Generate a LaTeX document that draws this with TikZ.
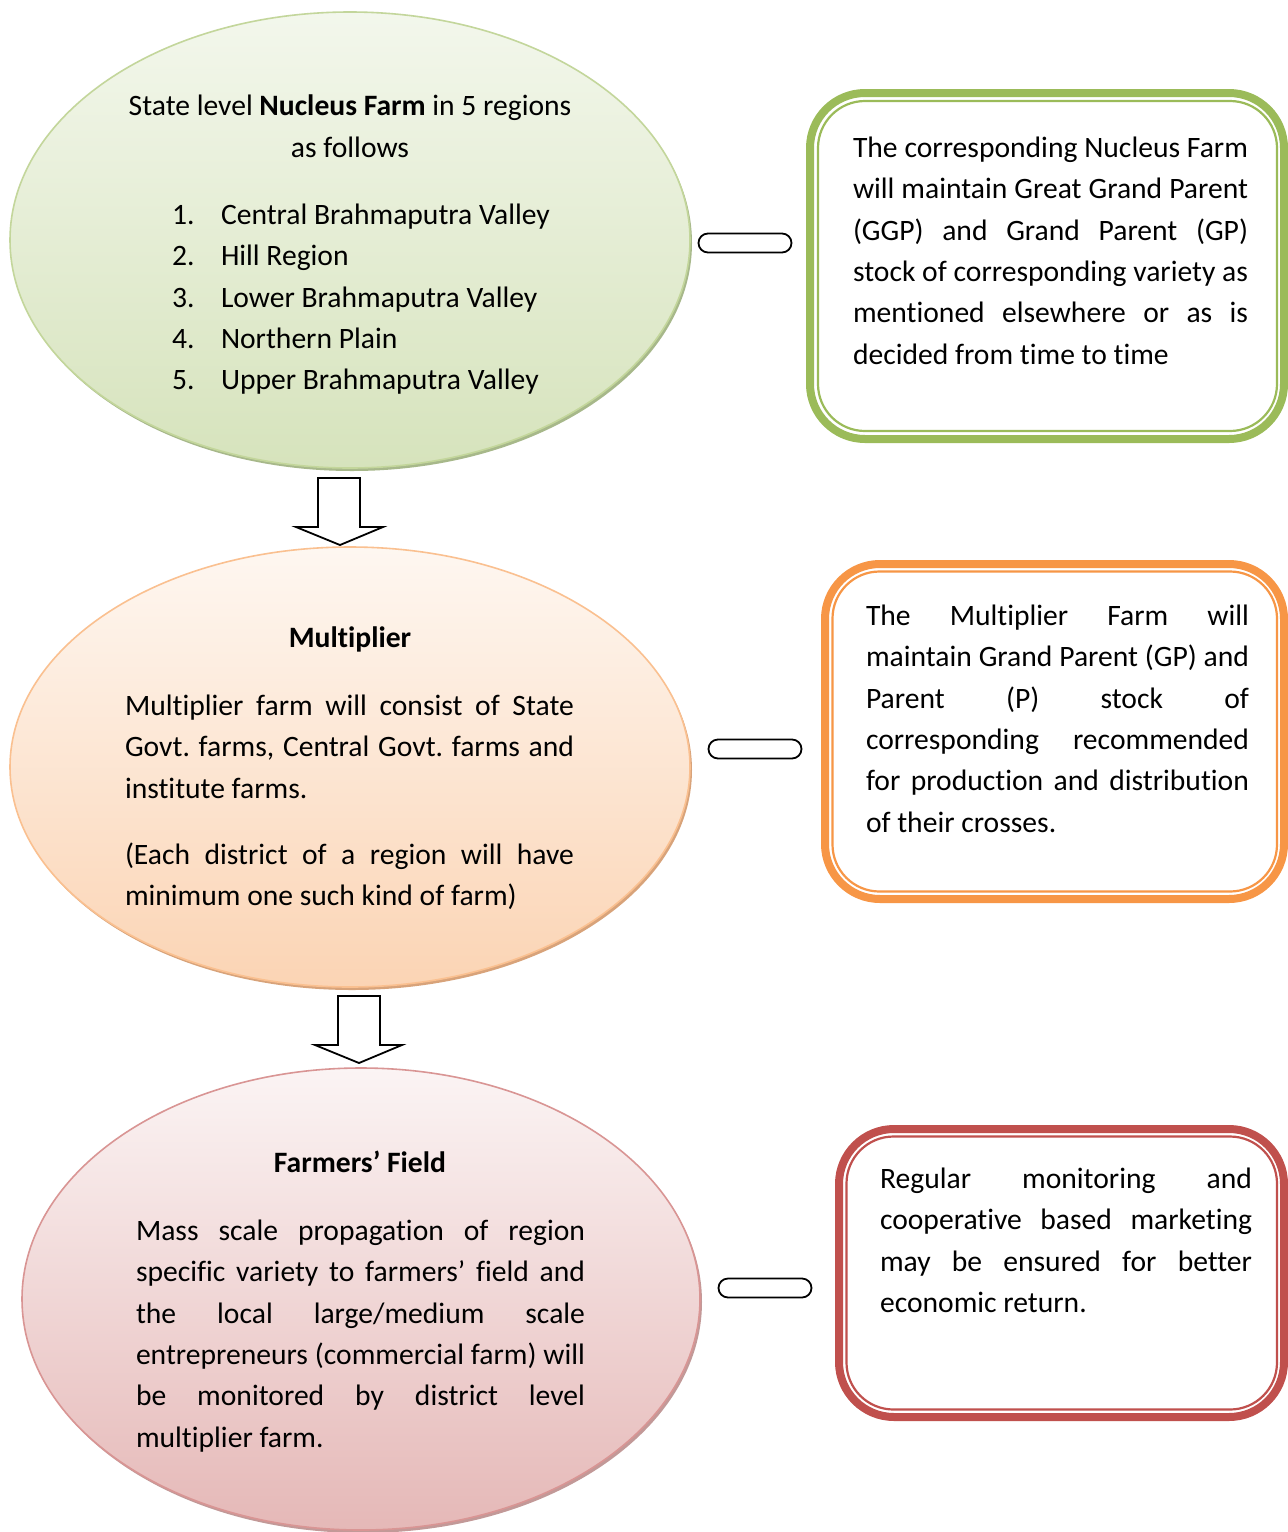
\documentclass[tikz,border=0pt]{standalone}
\usepackage{fontspec}
\setmainfont{Carlito}[Ligatures=NoCommon]
\usetikzlibrary{shapes.geometric,shapes.misc}
\definecolor{gBorder}{HTML}{C3D69B}
\definecolor{gTop}{HTML}{F3F7EC}
\definecolor{gBot}{HTML}{D6E3BC}
\definecolor{gShadow}{HTML}{A7B88A}
\definecolor{oBorder}{HTML}{FAC090}
\definecolor{oTop}{HTML}{FEF7F1}
\definecolor{oBot}{HTML}{FBD4B4}
\definecolor{oShadow}{HTML}{D8A37A}
\definecolor{rBorder}{HTML}{D99594}
\definecolor{rTop}{HTML}{FBF4F4}
\definecolor{rBot}{HTML}{E5B8B7}
\definecolor{rShadow}{HTML}{C29998}
\definecolor{gLine}{HTML}{9BBB59}
\definecolor{oLine}{HTML}{F79646}
\definecolor{rLine}{HTML}{C0504D}
\makeatletter
\newcommand{\justline}[2]{\makebox[#1][s]{\spaceskip\z@skip\xspaceskip\z@skip #2}}
\makeatother
\tikzset{
  txt/.style={font=\fontsize{29.6}{41.3}\selectfont\frenchspacing, inner sep=0pt, outer sep=0pt},
  oval/.style={ellipse, inner sep=0pt, line width=1.6pt},
  ovalshadow/.style={ellipse, inner sep=0pt, draw=none},
  pill/.style={rounded rectangle, draw=black, line width=1.8pt, fill=white, minimum width=93pt, minimum height=19pt, inner sep=0pt},
  blockarrow/.style={draw=black, line width=1.8pt, fill=white, line join=miter},
  outerframe/.style={line width=8pt},
  innerframe/.style={line width=2.2pt}
}
\begin{document}
\begin{tikzpicture}[x=1pt, y=-1pt]
\useasboundingbox (0,0) rectangle (1288,1532);
\clip (0,0) rectangle (1288,1532);
\fill[white] (0,0) rectangle (1288,1532);

% ---------- ellipses ----------
\node[ovalshadow, fill=gShadow, minimum width=680pt, minimum height=456pt] (nucleusshadow) at (352,243) {};
\node[oval, draw=gBorder, top color=gTop, bottom color=gBot, minimum width=680pt, minimum height=456pt] (nucleus) at (350,240) {};

\node[ovalshadow, fill=oShadow, minimum width=680pt, minimum height=440pt] (multshadow) at (352,770) {};
\node[oval, draw=oBorder, top color=oTop, bottom color=oBot, minimum width=680pt, minimum height=440pt] (mult) at (350,767) {};

\node[ovalshadow, fill=rShadow, minimum width=678pt, minimum height=462pt] (fieldshadow) at (363,1302) {};
\node[oval, draw=rBorder, top color=rTop, bottom color=rBot, minimum width=678pt, minimum height=462pt] (field) at (361,1299) {};

% ---------- block arrows ----------
\draw[blockarrow] (318,478) -- (360,478) -- (360,527) -- (383,527) -- (340,545) -- (296,527) -- (318,527) -- cycle;
\draw[blockarrow] (338,996) -- (380,996) -- (380,1045) -- (402,1045) -- (359,1063) -- (315,1045) -- (338,1045) -- cycle;

% ---------- side frames ----------
\draw[gLine, outerframe, rounded corners=55pt] (810,93) rectangle (1284,439);
\draw[gLine, innerframe, rounded corners=47pt] (818,101) rectangle (1277,431);

\draw[oLine, outerframe, rounded corners=55pt] (825,564) rectangle (1284,899);
\draw[oLine, innerframe, rounded corners=47pt] (832.5,571.5) rectangle (1277,891.5);

\draw[rLine, outerframe, rounded corners=55pt] (839,1129) rectangle (1284,1417);
\draw[rLine, innerframe, rounded corners=47pt] (846.5,1136.5) rectangle (1277,1409.5);

% ---------- pills ----------
\node[pill] (pill1) at (745,243) {};
\node[pill] (pill2) at (755,749) {};
\node[pill] (pill3) at (765,1288) {};

\begin{scope}[shift={(0,2.5)}]
% ---------- ellipse 1 text ----------
\node[txt, anchor=base] (n1a) at (350,113) {State level \textbf{Nucleus Farm} in 5 regions};
\node[txt, anchor=base] (n1b) at (350,155) {as follows};
\node[txt, anchor=base west] (i1n) at (172,222) {1.};
\node[txt, anchor=base west] (i1t) at (221,222) {Central Brahmaputra Valley};
\node[txt, anchor=base west] (i2n) at (172,263.3) {2.};
\node[txt, anchor=base west] (i2t) at (221,263.3) {Hill Region};
\node[txt, anchor=base west] (i3n) at (172,304.6) {3.};
\node[txt, anchor=base west] (i3t) at (221,304.6) {Lower Brahmaputra Valley};
\node[txt, anchor=base west] (i4n) at (172,345.9) {4.};
\node[txt, anchor=base west] (i4t) at (221,345.9) {Northern Plain};
\node[txt, anchor=base west] (i5n) at (172,387.2) {5.};
\node[txt, anchor=base west] (i5t) at (221,387.2) {Upper Brahmaputra Valley};

% ---------- ellipse 2 text ----------
\node[txt, anchor=base] (m1) at (350,645) {\textbf{Multiplier}};
\node[txt, anchor=base west, text width=449pt, align=flush left] (m2) at (125,713)
  {\justline{449pt}{Multiplier farm will consist of State}\\
   \justline{449pt}{Govt. farms, Central Govt. farms and}\\
   institute farms.};
\node[txt, anchor=base west, text width=449pt, align=flush left] (m3) at (125,862)
  {\justline{449pt}{(Each district of a region will have}\\
   minimum one such kind of farm)};

% ---------- ellipse 3 text ----------
\node[txt, anchor=base] (f1) at (360,1170) {\textbf{Farmers’ Field}};
\node[txt, anchor=base west, text width=449pt, align=flush left] (f2) at (136,1238)
  {\justline{449pt}{Mass scale propagation of region}\\
   \justline{449pt}{specific variety to farmers’ field and}\\
   \justline{449pt}{the local large/medium scale}\\
   \justline{449pt}{entrepreneurs (commercial farm) will}\\
   \justline{449pt}{be monitored by district level}\\
   multiplier farm.};

% ---------- frame texts ----------
\node[txt, anchor=base west, text width=395pt, align=flush left] (b1) at (853,155)
  {\justline{395pt}{The corresponding Nucleus Farm}\\
   \justline{395pt}{will maintain Great Grand Parent}\\
   \justline{395pt}{(GGP) and Grand Parent (GP)}\\
   \justline{395pt}{stock of corresponding variety as}\\
   \justline{395pt}{mentioned elsewhere or as is}\\
   decided from time to time};

\node[txt, anchor=base west, text width=383pt, align=flush left] (b2) at (866,623)
  {\justline{383pt}{The Multiplier Farm will}\\
   \justline{383pt}{maintain Grand Parent (GP) and}\\
   \justline{383pt}{Parent (P) stock of}\\
   \justline{383pt}{corresponding recommended}\\
   \justline{383pt}{for production and distribution}\\
   of their crosses.};

\node[txt, anchor=base west, text width=372pt, align=flush left] (b3) at (880,1186)
  {\justline{372pt}{Regular monitoring and}\\
   \justline{372pt}{cooperative based marketing}\\
   \justline{372pt}{may be ensured for better}\\
   economic return.};
\end{scope}
\end{tikzpicture}
\end{document}
